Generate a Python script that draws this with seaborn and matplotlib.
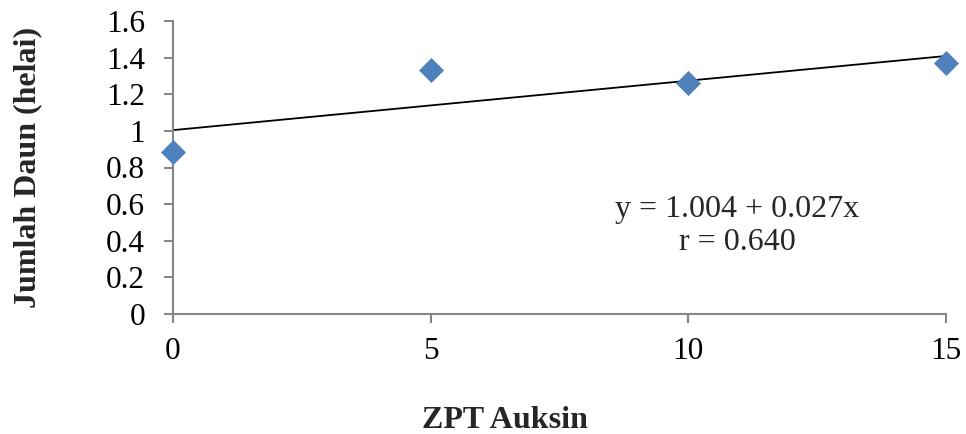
import matplotlib
matplotlib.use("Agg")
import matplotlib.pyplot as plt
import seaborn as sns
import numpy as np
import pandas as pd

# Data
zpt = [0, 5, 10, 15]
daun = [0.885, 1.33, 1.26, 1.37]
intercept = 1.004
slope = 0.027
r_value = 0.640
x_ticks = [0, 5, 10, 15]
y_ticks = [0, 0.2, 0.4, 0.6, 0.8, 1, 1.2, 1.4, 1.6]
y_tick_labels = ["0", "0.2", "0.4", "0.6", "0.8", "1", "1.2", "1.4", "1.6"]

sns.set_style("white")
plt.rcParams['font.family'] = ['Liberation Serif', 'DejaVu Serif']

W, H = 966, 434
fig = plt.figure(figsize=(W/100, H/100), dpi=100)
ax = fig.add_axes([173/W, 1-314/H, (946-173)/W, (314-21)/H])

df = pd.DataFrame({"x": zpt, "y": daun})
line_df = pd.DataFrame({"x": [min(zpt), max(zpt)]})
line_df["y"] = intercept + slope * line_df["x"]

sns.lineplot(data=line_df, x="x", y="y", ax=ax, color="black", linewidth=1.3)
sns.scatterplot(data=df, x="x", y="y", ax=ax, marker="D", s=150,
                color="#4F81BD", edgecolor="#4F81BD", linewidth=0.5, zorder=5, clip_on=False)

ax.set_xlim(0, 15)
ax.set_ylim(0, 1.6)
ax.set_xticks(x_ticks)
ax.set_yticks(y_ticks)
ax.set_yticklabels(y_tick_labels)
for s in ["top", "right"]:
    ax.spines[s].set_visible(False)
for s in ["left", "bottom"]:
    ax.spines[s].set_color("#868686")
    ax.spines[s].set_linewidth(1.5)
ax.tick_params(axis="both", direction="out", length=6.5, width=1.5, color="#868686",
               labelsize=22.5, labelcolor="black", bottom=True, left=True)
ax.tick_params(axis="x", pad=10)
ax.tick_params(axis="y", pad=13.5)

ax.set_xlabel("")
ax.set_ylabel("")
fig.text(505/W, 1-420/H, "ZPT Auksin", fontsize=23, fontweight="bold",
         ha="center", va="center")
fig.text(28/W, 1-167/H, "Jumlah Daun (helai)", fontsize=23, fontweight="bold",
         ha="center", va="center", rotation=90)

fig.text(737/W, 1-209/H, f"y = {intercept:.3f} + {slope:.3f}x", fontsize=23,
         ha="center", va="center")
fig.text(737/W, 1-243/H, f"r = {r_value:.3f}", fontsize=23,
         ha="center", va="center")

fig.savefig("out.png", dpi=100)
